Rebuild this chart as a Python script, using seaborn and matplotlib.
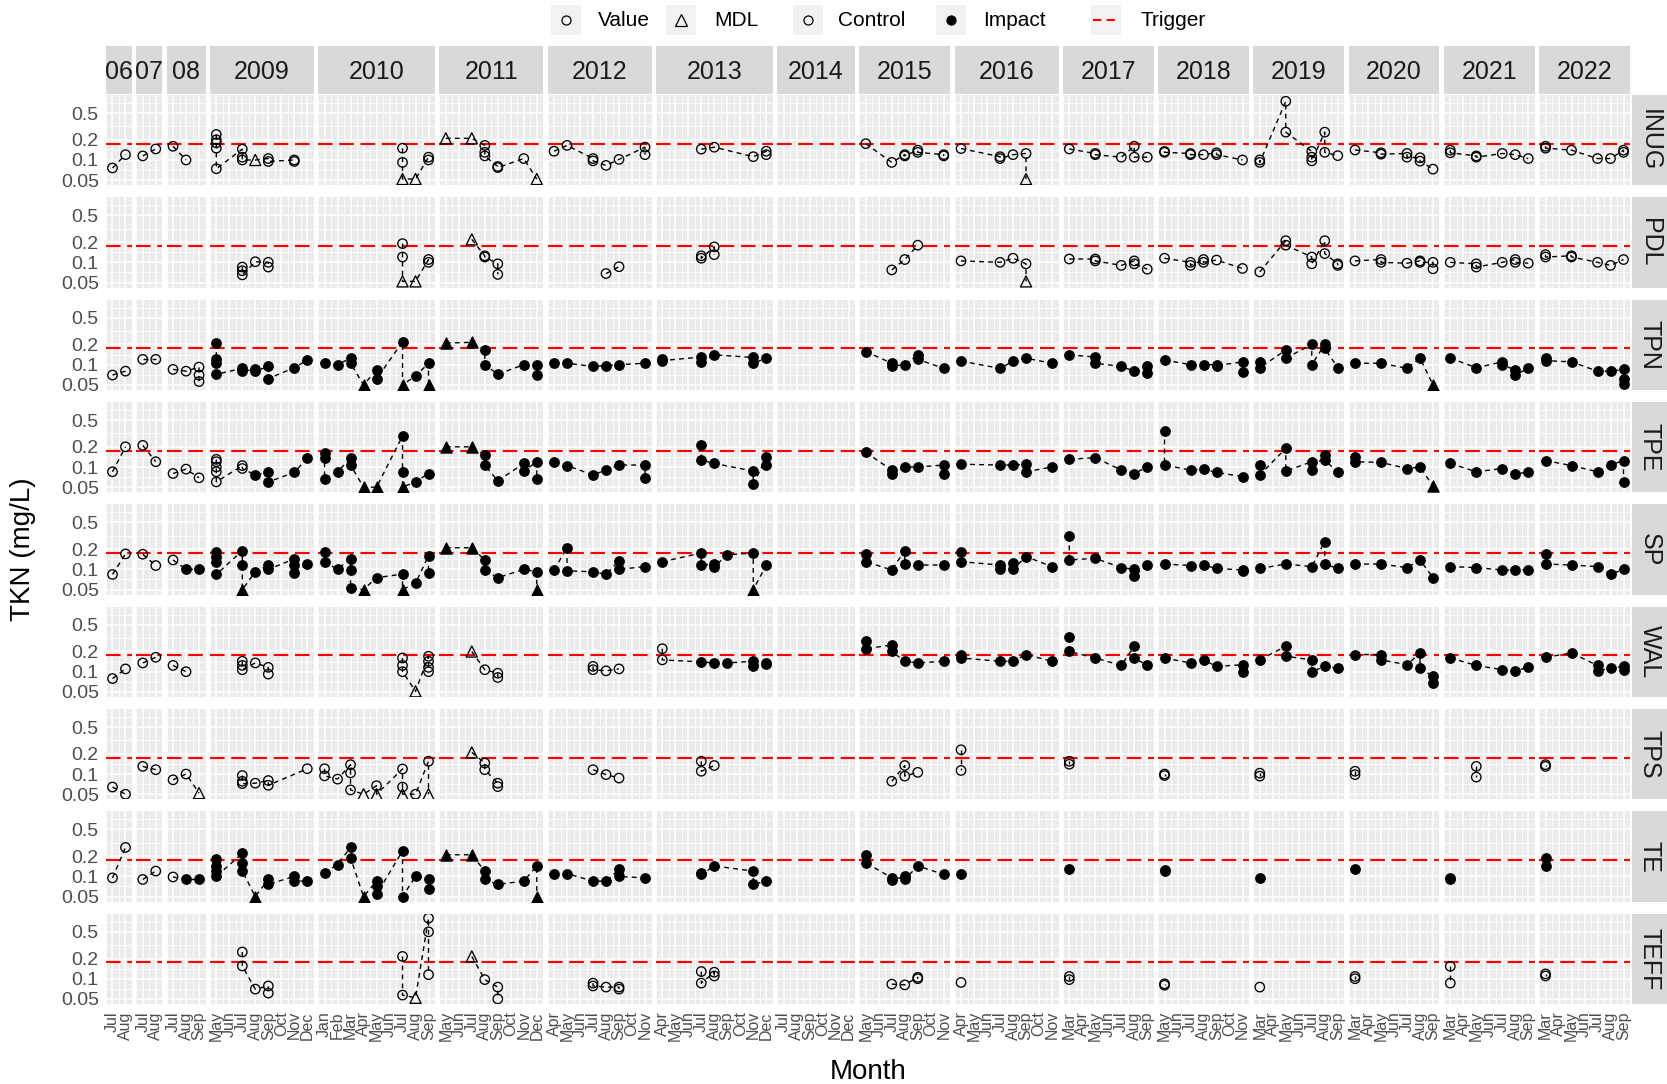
import matplotlib
matplotlib.use("Agg")
import matplotlib.pyplot as plt
import numpy as np
import pandas as pd
import seaborn as sns
from matplotlib.patches import Rectangle
from matplotlib.lines import Line2D
from matplotlib.ticker import FixedLocator, FixedFormatter, NullFormatter

sns.set_style("white")
plt.rcParams["font.family"] = ["Liberation Sans", "DejaVu Sans"]

# ---------------------------------------------------------------- data
SITES = ["INUG", "PDL", "TPN", "TPE", "SP", "WAL", "TPS", "TE", "TEFF"]
YEARS = list(range(2006, 2023))
YEAR_LABELS = ["06", "07", "08", "2009", "2010", "2011", "2012", "2013", "2014",
               "2015", "2016", "2017", "2018", "2019", "2020", "2021", "2022"]
FIRST_MONTH = [7, 7, 7, 5, 1, 5, 4, 4, 7, 5, 4, 3, 5, 3, 3, 3, 3]
LAST_MONTH = [8, 8, 9, 12, 9, 12, 11, 12, 12, 11, 11, 9, 11, 9, 9, 9, 9]
MONTH_NAMES = ["Jan", "Feb", "Mar", "Apr", "May", "Jun",
               "Jul", "Aug", "Sep", "Oct", "Nov", "Dec"]
Y_BREAKS = [0.05, 0.1, 0.2, 0.5]
Y_BREAK_LABELS = ["0.05", "0.1", "0.2", "0.5"]
TRIGGER = 0.175

# sites sampled as impact stations from the given (year, month) onwards
IMPACT_START = {"TPN": (2009, 5), "TPE": (2009, 8), "SP": (2008, 8),
                "WAL": (2013, 7), "TE": (2008, 8)}

# (year, month, measured TKN values ...)
INUG = [
    (2006, 7, 0.076), (2006, 8, 0.12), (2007, 7, 0.115), (2007, 8, 0.146),
    (2008, 7, 0.16), (2008, 8, 0.10),
    (2009, 5, 0.24, 0.20, 0.18, 0.15, 0.074), (2009, 7, 0.145, 0.11, 0.10),
    (2009, 9, 0.105, 0.095), (2009, 11, 0.10, 0.095),
    (2010, 7, 0.15, 0.092), (2010, 9, 0.11, 0.10),
    (2011, 8, 0.165, 0.13, 0.115), (2011, 9, 0.08, 0.077), (2011, 11, 0.105),
    (2012, 4, 0.135), (2012, 5, 0.165), (2012, 7, 0.105, 0.097), (2012, 8, 0.083),
    (2012, 9, 0.102), (2012, 11, 0.155, 0.12),
    (2013, 7, 0.145), (2013, 8, 0.155), (2013, 11, 0.112), (2013, 12, 0.135, 0.12),
    (2015, 5, 0.175), (2015, 7, 0.092), (2015, 8, 0.12, 0.115), (2015, 9, 0.14, 0.13),
    (2015, 11, 0.12, 0.115),
    (2016, 4, 0.148), (2016, 7, 0.112, 0.105), (2016, 8, 0.12), (2016, 9, 0.125),
    (2017, 3, 0.146), (2017, 5, 0.125, 0.12), (2017, 7, 0.11), (2017, 8, 0.16, 0.11),
    (2017, 9, 0.11),
    (2018, 5, 0.134, 0.13), (2018, 7, 0.125, 0.12), (2018, 8, 0.12), (2018, 9, 0.128, 0.12),
    (2018, 11, 0.10),
    (2019, 3, 0.10, 0.092), (2019, 5, 0.75, 0.26), (2019, 7, 0.134, 0.11, 0.097),
    (2019, 8, 0.26, 0.13), (2019, 9, 0.116),
    (2020, 3, 0.141), (2020, 5, 0.128, 0.122), (2020, 7, 0.125, 0.11), (2020, 8, 0.108, 0.096),
    (2020, 9, 0.073),
    (2021, 3, 0.14, 0.128), (2021, 5, 0.115, 0.11), (2021, 7, 0.125), (2021, 8, 0.12),
    (2021, 9, 0.105),
    (2022, 3, 0.16, 0.15), (2022, 5, 0.14), (2022, 7, 0.105), (2022, 8, 0.105),
    (2022, 9, 0.14, 0.13),
]
INUG_MDL = [(2009, 8, 0.10), (2010, 7, 0.052), (2010, 8, 0.052), (2011, 5, 0.21),
            (2011, 7, 0.21), (2011, 12, 0.052), (2016, 9, 0.052)]

PDL = [
    (2009, 7, 0.085, 0.075, 0.065), (2009, 8, 0.102), (2009, 9, 0.10, 0.085),
    (2010, 7, 0.19, 0.12), (2010, 9, 0.11, 0.10),
    (2011, 8, 0.125, 0.12), (2011, 9, 0.095, 0.066),
    (2012, 8, 0.068), (2012, 9, 0.086),
    (2013, 7, 0.125, 0.115), (2013, 8, 0.17, 0.13),
    (2015, 7, 0.077), (2015, 8, 0.11), (2015, 9, 0.18),
    (2016, 4, 0.105), (2016, 7, 0.10), (2016, 8, 0.115), (2016, 9, 0.095),
    (2017, 3, 0.112), (2017, 5, 0.112, 0.105), (2017, 7, 0.09), (2017, 8, 0.105, 0.095),
    (2017, 9, 0.079),
    (2018, 5, 0.115), (2018, 7, 0.10, 0.09), (2018, 8, 0.11, 0.10), (2018, 9, 0.108),
    (2018, 11, 0.081),
    (2019, 3, 0.072), (2019, 5, 0.21, 0.18), (2019, 7, 0.12, 0.095), (2019, 8, 0.21, 0.135),
    (2019, 9, 0.095, 0.09),
    (2020, 3, 0.105), (2020, 5, 0.11, 0.10), (2020, 7, 0.097), (2020, 8, 0.105, 0.10),
    (2020, 9, 0.10, 0.08),
    (2021, 3, 0.10), (2021, 5, 0.095, 0.085), (2021, 7, 0.10), (2021, 8, 0.11, 0.10),
    (2021, 9, 0.097),
    (2022, 3, 0.13, 0.12), (2022, 5, 0.125, 0.12), (2022, 7, 0.10), (2022, 8, 0.09),
    (2022, 9, 0.11),
]
PDL_MDL = [(2010, 7, 0.052), (2010, 8, 0.052), (2011, 7, 0.22), (2016, 9, 0.052)]

TPN = [
    (2006, 7, 0.07), (2006, 8, 0.08), (2007, 7, 0.12), (2007, 8, 0.12),
    (2008, 7, 0.085), (2008, 8, 0.08), (2008, 9, 0.092, 0.07, 0.056),
    (2009, 5, 0.21, 0.12, 0.105, 0.072), (2009, 7, 0.088, 0.08), (2009, 8, 0.085, 0.08),
    (2009, 9, 0.094, 0.062), (2009, 11, 0.09), (2009, 12, 0.117),
    (2010, 1, 0.105), (2010, 2, 0.10), (2010, 3, 0.125, 0.105), (2010, 5, 0.083, 0.061),
    (2010, 7, 0.22), (2010, 8, 0.068), (2010, 9, 0.105),
    (2011, 8, 0.165, 0.10), (2011, 9, 0.072), (2011, 11, 0.10), (2011, 12, 0.10, 0.07),
    (2012, 4, 0.105), (2012, 5, 0.105), (2012, 7, 0.094), (2012, 8, 0.097), (2012, 9, 0.10),
    (2012, 11, 0.105),
    (2013, 4, 0.12, 0.115), (2013, 7, 0.13, 0.11), (2013, 8, 0.14), (2013, 11, 0.128, 0.105),
    (2013, 12, 0.125),
    (2015, 5, 0.157), (2015, 7, 0.105, 0.095), (2015, 8, 0.10), (2015, 9, 0.14, 0.12),
    (2015, 11, 0.088),
    (2016, 4, 0.113), (2016, 7, 0.088), (2016, 8, 0.112), (2016, 9, 0.125), (2016, 11, 0.105),
    (2017, 3, 0.14), (2017, 5, 0.13, 0.105), (2017, 7, 0.094), (2017, 8, 0.08),
    (2017, 9, 0.094, 0.075),
    (2018, 5, 0.117), (2018, 7, 0.10), (2018, 8, 0.10), (2018, 9, 0.10, 0.097),
    (2018, 11, 0.11, 0.078),
    (2019, 3, 0.11, 0.09), (2019, 5, 0.165, 0.125), (2019, 7, 0.20, 0.10),
    (2019, 8, 0.20, 0.175), (2019, 9, 0.09),
    (2020, 3, 0.105), (2020, 5, 0.105), (2020, 7, 0.088), (2020, 8, 0.125),
    (2021, 3, 0.125), (2021, 5, 0.09), (2021, 7, 0.11, 0.10), (2021, 8, 0.083, 0.07),
    (2021, 9, 0.088),
    (2022, 3, 0.125, 0.115), (2022, 5, 0.11), (2022, 7, 0.08), (2022, 8, 0.08),
    (2022, 9, 0.085, 0.062, 0.052),
]
TPN_MDL = [(2010, 4, 0.05), (2010, 7, 0.05), (2010, 9, 0.05), (2011, 5, 0.21),
           (2011, 7, 0.215), (2020, 9, 0.05)]

TPE = [
    (2006, 7, 0.085), (2006, 8, 0.20), (2007, 7, 0.21), (2007, 8, 0.12),
    (2008, 7, 0.08), (2008, 8, 0.093), (2008, 9, 0.069),
    (2009, 5, 0.13, 0.12, 0.10, 0.085, 0.06), (2009, 7, 0.105, 0.095), (2009, 8, 0.076),
    (2009, 9, 0.083, 0.06), (2009, 11, 0.083), (2009, 12, 0.135),
    (2010, 1, 0.16, 0.135, 0.066), (2010, 2, 0.085), (2010, 3, 0.135, 0.107),
    (2010, 7, 0.29, 0.085), (2010, 8, 0.06), (2010, 9, 0.08),
    (2011, 8, 0.15, 0.107), (2011, 9, 0.062), (2011, 11, 0.113, 0.087), (2011, 12, 0.12, 0.066),
    (2012, 4, 0.12), (2012, 5, 0.105), (2012, 7, 0.076), (2012, 8, 0.09), (2012, 9, 0.107),
    (2012, 11, 0.107, 0.069),
    (2013, 7, 0.21, 0.127), (2013, 8, 0.113), (2013, 11, 0.087, 0.055), (2013, 12, 0.14, 0.107),
    (2015, 5, 0.165), (2015, 7, 0.09, 0.078), (2015, 8, 0.10), (2015, 9, 0.10),
    (2015, 11, 0.107, 0.08),
    (2016, 4, 0.11), (2016, 7, 0.107), (2016, 8, 0.107), (2016, 9, 0.11, 0.085), (2016, 11, 0.10),
    (2017, 3, 0.13), (2017, 5, 0.138), (2017, 7, 0.09), (2017, 8, 0.08), (2017, 9, 0.10),
    (2018, 5, 0.35, 0.107), (2018, 7, 0.09), (2018, 8, 0.093), (2018, 9, 0.083), (2018, 11, 0.072),
    (2019, 3, 0.107, 0.076), (2019, 5, 0.19, 0.087), (2019, 7, 0.12, 0.09),
    (2019, 8, 0.15, 0.127), (2019, 9, 0.083),
    (2020, 3, 0.14, 0.12), (2020, 5, 0.117), (2020, 7, 0.095), (2020, 8, 0.10),
    (2021, 3, 0.113), (2021, 5, 0.085), (2021, 7, 0.095), (2021, 8, 0.08), (2021, 9, 0.083),
    (2022, 3, 0.125), (2022, 5, 0.105), (2022, 7, 0.085), (2022, 8, 0.107), (2022, 9, 0.125, 0.059),
]
TPE_MDL = [(2010, 4, 0.05), (2010, 5, 0.05), (2010, 7, 0.05), (2011, 5, 0.20),
           (2011, 7, 0.20), (2020, 9, 0.052)]

SP = [
    (2006, 7, 0.084), (2006, 8, 0.17), (2007, 7, 0.168), (2007, 8, 0.114),
    (2008, 7, 0.138), (2008, 8, 0.10), (2008, 9, 0.10),
    (2009, 5, 0.18, 0.155, 0.13, 0.084), (2009, 7, 0.19, 0.116), (2009, 8, 0.092),
    (2009, 9, 0.115, 0.10), (2009, 11, 0.143, 0.116, 0.087), (2009, 12, 0.12),
    (2010, 1, 0.18, 0.13), (2010, 2, 0.10), (2010, 3, 0.145, 0.098, 0.052), (2010, 5, 0.075),
    (2010, 7, 0.085), (2010, 8, 0.062), (2010, 9, 0.16, 0.087),
    (2011, 8, 0.138, 0.098), (2011, 9, 0.075), (2011, 11, 0.10), (2011, 12, 0.092),
    (2012, 4, 0.098), (2012, 5, 0.21, 0.095), (2012, 7, 0.092), (2012, 8, 0.084),
    (2012, 9, 0.135, 0.10), (2012, 11, 0.11),
    (2013, 4, 0.13), (2013, 7, 0.175, 0.115), (2013, 8, 0.12, 0.11), (2013, 9, 0.165),
    (2013, 11, 0.175), (2013, 12, 0.115),
    (2015, 5, 0.168, 0.13), (2015, 7, 0.098), (2015, 8, 0.19, 0.12), (2015, 9, 0.116),
    (2015, 11, 0.116),
    (2016, 4, 0.18, 0.13), (2016, 7, 0.116, 0.10), (2016, 8, 0.125, 0.10), (2016, 9, 0.155),
    (2016, 11, 0.11),
    (2017, 3, 0.31, 0.138), (2017, 5, 0.146), (2017, 7, 0.106), (2017, 8, 0.10, 0.08),
    (2017, 9, 0.115),
    (2018, 5, 0.12), (2018, 7, 0.114), (2018, 8, 0.116), (2018, 9, 0.103), (2018, 11, 0.098, 0.094),
    (2019, 3, 0.103), (2019, 5, 0.12), (2019, 7, 0.11), (2019, 8, 0.26, 0.12), (2019, 9, 0.103),
    (2020, 3, 0.12), (2020, 5, 0.12), (2020, 7, 0.106), (2020, 8, 0.138), (2020, 9, 0.075),
    (2021, 3, 0.11), (2021, 5, 0.106), (2021, 7, 0.098), (2021, 8, 0.098), (2021, 9, 0.098),
    (2022, 3, 0.168, 0.12), (2022, 5, 0.116), (2022, 7, 0.11), (2022, 8, 0.084), (2022, 9, 0.10),
]
SP_MDL = [(2009, 7, 0.05), (2010, 4, 0.05), (2010, 7, 0.05), (2011, 5, 0.21),
          (2011, 7, 0.21), (2011, 12, 0.05), (2013, 11, 0.05)]

WAL = [
    (2006, 7, 0.079), (2006, 8, 0.11), (2007, 7, 0.135), (2007, 8, 0.164),
    (2008, 7, 0.124), (2008, 8, 0.10),
    (2009, 7, 0.143, 0.124, 0.107), (2009, 8, 0.135), (2009, 9, 0.116, 0.092),
    (2010, 7, 0.16, 0.124, 0.10), (2010, 9, 0.17, 0.143, 0.116, 0.10),
    (2011, 8, 0.107), (2011, 9, 0.095, 0.082),
    (2012, 7, 0.12, 0.107), (2012, 8, 0.103), (2012, 9, 0.11),
    (2013, 4, 0.22, 0.15), (2013, 7, 0.14), (2013, 8, 0.135), (2013, 9, 0.135),
    (2013, 11, 0.143, 0.12), (2013, 12, 0.135, 0.13),
    (2015, 5, 0.285, 0.22), (2015, 7, 0.25, 0.20), (2015, 8, 0.143), (2015, 9, 0.135),
    (2015, 11, 0.143),
    (2016, 4, 0.18, 0.16), (2016, 7, 0.143), (2016, 8, 0.143), (2016, 9, 0.18), (2016, 11, 0.143),
    (2017, 3, 0.33, 0.20), (2017, 5, 0.16), (2017, 7, 0.124), (2017, 8, 0.24, 0.16),
    (2017, 9, 0.124),
    (2018, 5, 0.16), (2018, 7, 0.135), (2018, 8, 0.15), (2018, 9, 0.12), (2018, 11, 0.127, 0.10),
    (2019, 3, 0.15), (2019, 5, 0.24, 0.17), (2019, 7, 0.15, 0.10), (2019, 8, 0.12),
    (2019, 9, 0.113),
    (2020, 3, 0.18), (2020, 5, 0.18, 0.15), (2020, 7, 0.127), (2020, 8, 0.19, 0.113),
    (2020, 9, 0.085, 0.068),
    (2021, 3, 0.16), (2021, 5, 0.124), (2021, 7, 0.107), (2021, 8, 0.103), (2021, 9, 0.116),
    (2022, 3, 0.164), (2022, 5, 0.19), (2022, 7, 0.124, 0.103), (2022, 8, 0.113),
    (2022, 9, 0.12, 0.105),
]
WAL_MDL = [(2010, 8, 0.051), (2011, 7, 0.20)]

TPS = [
    (2006, 7, 0.064), (2006, 8, 0.05), (2007, 7, 0.13), (2007, 8, 0.116),
    (2008, 7, 0.082), (2008, 8, 0.10),
    (2009, 7, 0.095, 0.078, 0.072), (2009, 8, 0.073), (2009, 9, 0.08, 0.068), (2009, 12, 0.12),
    (2010, 1, 0.12, 0.094), (2010, 2, 0.084), (2010, 3, 0.138, 0.104, 0.058), (2010, 5, 0.067),
    (2010, 7, 0.119, 0.064), (2010, 8, 0.05), (2010, 9, 0.155),
    (2011, 8, 0.146, 0.116), (2011, 9, 0.073, 0.065),
    (2012, 7, 0.116), (2012, 8, 0.098), (2012, 9, 0.087),
    (2013, 7, 0.155, 0.11), (2013, 8, 0.134),
    (2015, 7, 0.078), (2015, 8, 0.134, 0.093), (2015, 9, 0.106),
    (2016, 4, 0.23, 0.113), (2017, 3, 0.155, 0.14), (2018, 5, 0.10, 0.095),
    (2019, 3, 0.103, 0.093), (2020, 3, 0.11, 0.098), (2021, 5, 0.13, 0.09),
    (2022, 3, 0.138, 0.13),
]
TPS_MDL = [(2008, 9, 0.052), (2010, 4, 0.05), (2010, 5, 0.05), (2010, 7, 0.05),
           (2010, 9, 0.05), (2011, 7, 0.21)]

TE = [
    (2006, 7, 0.095), (2006, 8, 0.27), (2007, 7, 0.09), (2007, 8, 0.12),
    (2008, 7, 0.098), (2008, 8, 0.09), (2008, 9, 0.09),
    (2009, 5, 0.18, 0.143, 0.12, 0.10), (2009, 7, 0.22, 0.16, 0.12), (2009, 9, 0.09, 0.076),
    (2009, 11, 0.10, 0.085), (2009, 12, 0.085),
    (2010, 1, 0.113), (2010, 2, 0.15), (2010, 3, 0.27, 0.19), (2010, 5, 0.085, 0.072, 0.054),
    (2010, 7, 0.24, 0.05), (2010, 8, 0.10), (2010, 9, 0.09, 0.064),
    (2011, 8, 0.12, 0.09), (2011, 9, 0.076), (2011, 11, 0.085), (2011, 12, 0.143),
    (2012, 4, 0.107), (2012, 5, 0.11), (2012, 7, 0.085), (2012, 8, 0.085),
    (2012, 9, 0.127, 0.10), (2012, 11, 0.095),
    (2013, 7, 0.113, 0.107), (2013, 8, 0.143), (2013, 11, 0.12, 0.076), (2013, 12, 0.085),
    (2015, 5, 0.21, 0.16), (2015, 7, 0.095, 0.088), (2015, 8, 0.10, 0.09), (2015, 9, 0.143),
    (2015, 11, 0.107),
    (2016, 4, 0.107), (2017, 3, 0.127), (2018, 5, 0.125, 0.12), (2019, 3, 0.095),
    (2020, 3, 0.13), (2021, 3, 0.095, 0.09), (2022, 3, 0.19, 0.143),
]
TE_MDL = [(2009, 8, 0.05), (2010, 4, 0.05), (2011, 5, 0.21), (2011, 7, 0.21), (2011, 12, 0.05)]

TEFF = [
    (2009, 7, 0.25, 0.155), (2009, 8, 0.07), (2009, 9, 0.078, 0.061),
    (2010, 7, 0.215, 0.057), (2010, 9, 0.80, 0.50, 0.115),
    (2011, 8, 0.097), (2011, 9, 0.075, 0.05),
    (2012, 7, 0.086, 0.078), (2012, 8, 0.075), (2012, 9, 0.075, 0.07),
    (2013, 7, 0.128, 0.086), (2013, 8, 0.125, 0.11),
    (2015, 7, 0.083), (2015, 8, 0.081), (2015, 9, 0.105, 0.10),
    (2016, 4, 0.088), (2017, 3, 0.108, 0.097), (2018, 5, 0.084, 0.08), (2019, 3, 0.075),
    (2020, 3, 0.108, 0.10), (2021, 3, 0.153, 0.086), (2022, 3, 0.118, 0.11),
]
TEFF_MDL = [(2010, 8, 0.052), (2011, 7, 0.215)]

SITE_VALUES = {"INUG": (INUG, INUG_MDL), "PDL": (PDL, PDL_MDL), "TPN": (TPN, TPN_MDL),
               "TPE": (TPE, TPE_MDL), "SP": (SP, SP_MDL), "WAL": (WAL, WAL_MDL),
               "TPS": (TPS, TPS_MDL), "TE": (TE, TE_MDL), "TEFF": (TEFF, TEFF_MDL)}


def build_frame():
    rows = []
    for site in SITES:
        values, mdl = SITE_VALUES[site]
        start = IMPACT_START.get(site)

        def group(y, m):
            return "Impact" if start is not None and (y, m) >= start else "Control"

        for year, month, *vals in values:
            for v in vals:
                rows.append((site, year, month, v, "Value", group(year, month)))
        for year, month, v in mdl:
            rows.append((site, year, month, v, "MDL", group(year, month)))
    df = pd.DataFrame(rows, columns=["site", "year", "month", "tkn", "kind", "group"])
    return df.sort_values(["site", "year", "month"], kind="mergesort")


df = build_frame()

# ---------------------------------------------------------------- layout
W, H = 1667, 1084
PANEL_BG = "#EBEBEB"
STRIP_BG = "#D9D9D9"
YLIM = (0.042, 0.93)

fig = plt.figure(figsize=(W / 100, H / 100), dpi=100)
n_months = [l - f + 1 for f, l in zip(FIRST_MONTH, LAST_MONTH)]
gs = fig.add_gridspec(len(SITES), len(YEARS), width_ratios=n_months,
                      left=106 / W, right=1630 / W, top=1 - 95 / H, bottom=1 - 1004 / H,
                      wspace=0.05, hspace=0.134)

y_minor = [np.sqrt(0.05 * 0.1), np.sqrt(0.1 * 0.2), np.sqrt(0.2 * 0.5), np.sqrt(0.5 * 1.0)]
axes = np.empty((len(SITES), len(YEARS)), dtype=object)

for r, site in enumerate(SITES):
    for c, year in enumerate(YEARS):
        ax = fig.add_subplot(gs[r, c])
        axes[r, c] = ax
        ax.set_facecolor(PANEL_BG)
        for sp in ax.spines.values():
            sp.set_visible(False)
        ax.set_yscale("log")
        ax.set_ylim(*YLIM)
        m0, m1 = FIRST_MONTH[c], LAST_MONTH[c]
        ax.set_xlim(m0 - 0.5, m1 + 0.5)
        months = list(range(m0, m1 + 1))
        ax.xaxis.set_major_locator(FixedLocator(months))
        ax.xaxis.set_minor_locator(FixedLocator([m + 0.5 for m in range(m0 - 1, m1 + 1)]))
        ax.yaxis.set_major_locator(FixedLocator(Y_BREAKS))
        ax.yaxis.set_minor_locator(FixedLocator(y_minor))
        ax.xaxis.set_minor_formatter(NullFormatter())
        ax.yaxis.set_minor_formatter(NullFormatter())
        ax.grid(True, which="major", color="white", linewidth=1.1)
        ax.grid(True, which="minor", color="white", linewidth=0.55)
        ax.set_axisbelow(True)

        if r == len(SITES) - 1:
            ax.xaxis.set_major_formatter(FixedFormatter([MONTH_NAMES[m - 1] for m in months]))
            ax.tick_params(axis="x", which="major", length=3.2, width=0.8, color="#333333",
                           labelsize=11.5, labelcolor="#4D4D4D", labelrotation=90, pad=2)
        else:
            ax.xaxis.set_major_formatter(NullFormatter())
            ax.tick_params(axis="x", which="major", length=0)
        if c == 0:
            ax.yaxis.set_major_formatter(FixedFormatter(Y_BREAK_LABELS))
            ax.tick_params(axis="y", which="major", length=3.2, width=0.8, color="#333333",
                           labelsize=14, labelcolor="#4D4D4D", pad=2)
        else:
            ax.yaxis.set_major_formatter(NullFormatter())
            ax.tick_params(axis="y", which="major", length=0)
        ax.tick_params(which="minor", length=0)

        # trigger level
        ax.axhline(TRIGGER, color="#FF0000", linewidth=1.5, linestyle=(0, (7, 3.2)), zorder=1.5)

        sub = df[(df["site"] == site) & (df["year"] == year)]
        if not sub.empty:
            sns.lineplot(data=sub, x="month", y="tkn", estimator=None, sort=False,
                         color="black", linewidth=1.0, linestyle=(0, (3.5, 3)),
                         ax=ax, legend=False, zorder=2)
            for (kind, grp), pts in sub.groupby(["kind", "group"]):
                marker = "o" if kind == "Value" else "^"
                size = 46 if kind == "Value" else 64
                face = "black" if grp == "Impact" else "none"
                sns.scatterplot(data=pts, x="month", y="tkn", marker=marker, s=size,
                                facecolor=face, edgecolor="black", linewidth=0.95,
                                ax=ax, legend=False, zorder=3)
        ax.set_xlabel("")
        ax.set_ylabel("")

# ---------------------------------------------------------------- strips
for c, label in enumerate(YEAR_LABELS):
    pos = axes[0, c].get_position()
    y0, y1 = 1 - 93.5 / H, 1 - 45.7 / H
    fig.add_artist(Rectangle((pos.x0, y0), pos.width, y1 - y0, transform=fig.transFigure,
                             facecolor=STRIP_BG, edgecolor="none"))
    fig.text(pos.x0 + pos.width / 2, (y0 + y1) / 2 - 2.5 / H, label, ha="center", va="center",
             fontsize=18, color="#1A1A1A")

for r, site in enumerate(SITES):
    pos = axes[r, -1].get_position()
    x0, x1 = 1632 / W, 1.0
    fig.add_artist(Rectangle((x0, pos.y0), x1 - x0, pos.height, transform=fig.transFigure,
                             facecolor=STRIP_BG, edgecolor="none"))
    fig.text((x0 + x1) / 2, pos.y0 + pos.height / 2, site, ha="center", va="center",
             rotation=270, fontsize=18, color="#1A1A1A")

# ---------------------------------------------------------------- titles
fig.text(23 / W, 1 - 549 / H, "TKN (mg/L)", rotation=90, ha="center", va="center",
         fontsize=20, color="black")
fig.text(868 / W, 1 - 1072 / H, "Month", ha="center", va="center", fontsize=20, color="black")

# ---------------------------------------------------------------- legend
legend_y = 1 - 20 / H
key_w, key_h = 30 / W, 30 / H
legend_items = [
    (566, 598, "Value", dict(marker="o", markersize=6.5, markerfacecolor="none")),
    (681, 714, "MDL", dict(marker="^", markersize=8, markerfacecolor="none")),
    (808, 838, "Control", dict(marker="o", markersize=6.5, markerfacecolor="none")),
    (951, 983, "Impact", dict(marker="o", markersize=6.5, markerfacecolor="black")),
    (1106, 1140, "Trigger", None),
]
for kx, tx, label, mk in legend_items:
    cx = kx / W
    fig.add_artist(Rectangle((cx - key_w / 2, legend_y - key_h / 2), key_w, key_h,
                             transform=fig.transFigure, facecolor="#F2F2F2", edgecolor="none"))
    if mk is None:
        fig.add_artist(Line2D([cx - 13 / W, cx + 13 / W], [legend_y, legend_y],
                              transform=fig.transFigure, color="#FF0000", linewidth=1.5,
                              linestyle=(0, (4, 2.5))))
    else:
        fig.add_artist(Line2D([cx], [legend_y], transform=fig.transFigure, linestyle="none",
                              markeredgecolor="black", markeredgewidth=0.9, **mk))
    fig.text(tx / W, legend_y, label, ha="left", va="center", fontsize=15, color="black")

fig.savefig("out.png", dpi=100)
